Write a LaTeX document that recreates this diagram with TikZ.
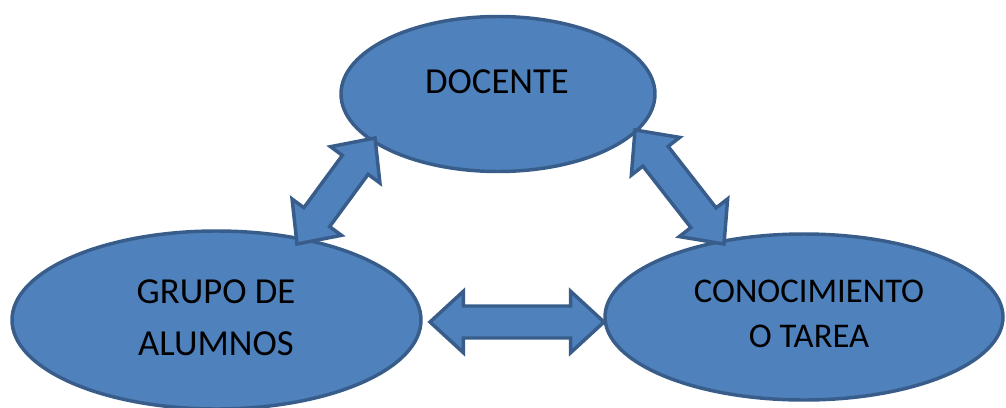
\documentclass[tikz,border=0pt]{standalone}
\usepackage{fontspec}
\setmainfont{Carlito}
\usetikzlibrary{shapes.geometric,calc}
\definecolor{bfill}{HTML}{4F81BD}
\definecolor{bline}{HTML}{385D8A}
\tikzset{
  oval/.style={ellipse,draw=bline,fill=bfill,line width=2.6pt,inner sep=0pt},
  barrow/.style={draw=bline,fill=bfill,line width=2.6pt},
  lbl/.style={anchor=base,font=\fontsize{26}{30}\selectfont,text=black,inner sep=0pt},
  lblbig/.style={lbl,font=\fontsize{27.5}{32}\selectfont}
}
\newcommand\blockarrow[2]{%
 \draw[barrow] (#1)
  -- ($(#1)!25pt!(#2)!23pt!90:(#2)$)
  -- ($(#1)!25pt!(#2)!12pt!90:(#2)$)
  -- ($(#2)!25pt!(#1)!12pt!-90:(#1)$)
  -- ($(#2)!25pt!(#1)!23pt!-90:(#1)$)
  -- (#2)
  -- ($(#2)!25pt!(#1)!23pt!90:(#1)$)
  -- ($(#2)!25pt!(#1)!12pt!90:(#1)$)
  -- ($(#1)!25pt!(#2)!12pt!-90:(#2)$)
  -- ($(#1)!25pt!(#2)!23pt!-90:(#2)$)
  -- cycle;}
\begin{document}
\begin{tikzpicture}[x=0.75pt,y=-0.75pt]
\useasboundingbox (0,0) rectangle (1006,407);
\node[oval,minimum width=235.5pt,minimum height=116.25pt] (doc) at (498,94) {};
\node[oval,minimum width=306.75pt,minimum height=133.5pt] (grp) at (216.5,320) {};
\node[oval,minimum width=298.5pt,minimum height=124.5pt] (con) at (804,317) {};
\node[lblbig] (tdoc) at (497,93) {DOCENTE};
\node[lblbig] (tgrp1) at (216,303) {GRUPO DE};
\node[lblbig] (tgrp2) at (216,355) {ALUMNOS};
\node[lbl] (tcon1) at (809,302) {CONOCIMIENTO};
\node[lbl] (tcon2) at (809,347) {O TAREA};
\coordinate (a1) at (375,138);
\coordinate (a2) at (297,244);
\coordinate (b1) at (635,130);
\coordinate (b2) at (724,244);
\coordinate (c1) at (430,322);
\coordinate (c2) at (604,322);
\blockarrow{a1}{a2}
\blockarrow{b1}{b2}
\blockarrow{c1}{c2}
\end{tikzpicture}
\end{document}
